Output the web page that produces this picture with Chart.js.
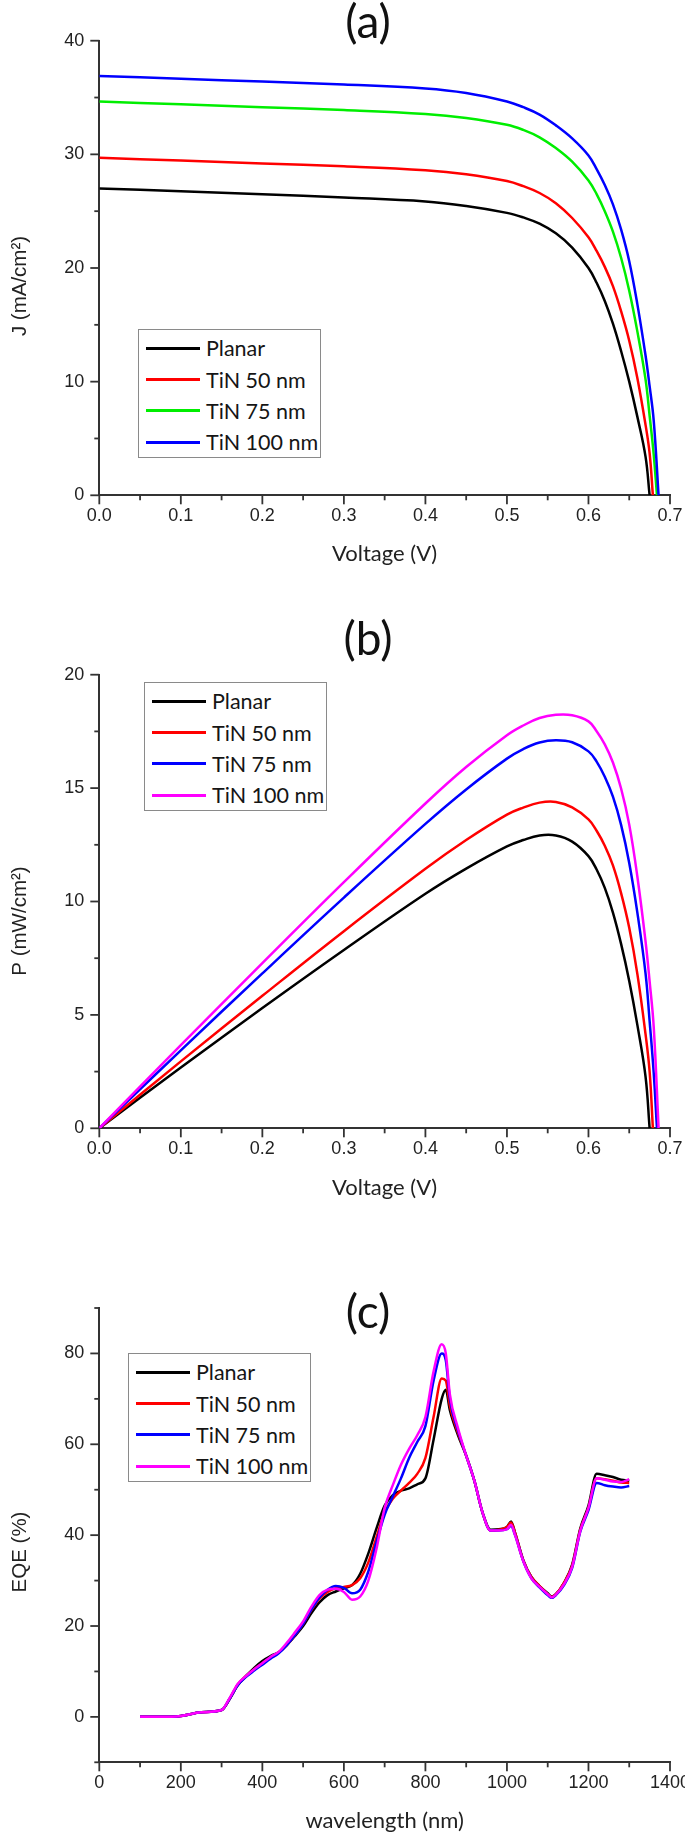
<!DOCTYPE html>
<html>
<head>
<meta charset="utf-8">
<script src="https://cdn.jsdelivr.net/npm/chart.js@4.4.1/dist/chart.umd.min.js"></script>
<style>
body { margin: 0; background: #fff; }
#page { position: relative; width: 685px; height: 1838px; overflow: hidden; }
#page canvas { position: absolute; left: 0; }
.legend { position: absolute; box-sizing: border-box; border: 1.5px solid #8a8a8a; background: #fff;
  font-family: Lato, sans-serif; font-size: 21.5px; color: #151515; }
.legend .row { position: absolute; left: 0; right: 0; height: 30px; line-height: 30px; white-space: nowrap; }
.legend .swatch { position: absolute; top: 13.5px; height: 3px; }
.legend .txt { position: absolute; top: 0; }
</style>
</head>
<body>
<div id="page"></div>
<script>
// series names, shared by the three panels
const seriesNames = ["Planar", "TiN 50 nm", "TiN 75 nm", "TiN 100 nm"];
const jvColors = ["#000000", "#ff0000", "#00ee00", "#0000ff"];
const pvColors = ["#000000", "#ff0000", "#0000ff", "#ff00ff"];

// (a) / (b) voltage points for each device (V)
const vPlanar = [0, 0.1, 0.2, 0.3, 0.4, 0.45, 0.5, 0.52, 0.54, 0.56, 0.58, 0.6, 0.61, 0.62, 0.63, 0.64, 0.65, 0.66, 0.67, 0.675];
const vTiN50 = [0, 0.1, 0.2, 0.3, 0.4, 0.45, 0.5, 0.52, 0.54, 0.56, 0.58, 0.6, 0.61, 0.62, 0.63, 0.64, 0.65, 0.66, 0.67, 0.675, 0.679];
const vTiN75 = [0, 0.1, 0.2, 0.3, 0.4, 0.45, 0.5, 0.52, 0.54, 0.56, 0.58, 0.6, 0.61, 0.62, 0.63, 0.64, 0.65, 0.66, 0.67, 0.675, 0.68, 0.684];
const vTiN100 = [0, 0.1, 0.2, 0.3, 0.4, 0.45, 0.5, 0.52, 0.54, 0.56, 0.58, 0.6, 0.61, 0.62, 0.63, 0.64, 0.65, 0.66, 0.67, 0.675, 0.68, 0.686];

// (a) current density J (mA/cm2)
const jPlanar = [27.0, 26.75, 26.5, 26.2, 25.85, 25.45, 24.85, 24.45, 23.9, 23.05, 21.8, 20.0, 18.7, 17.1, 15.1, 12.7, 10.0, 6.9, 3.4, 0];
const jTiN50 = [29.7, 29.45, 29.2, 28.95, 28.6, 28.25, 27.65, 27.2, 26.6, 25.7, 24.4, 22.7, 21.5, 20.1, 18.4, 16.2, 13.6, 10.3, 6.2, 3.7, 0];
const jTiN75 = [34.65, 34.4, 34.15, 33.9, 33.55, 33.2, 32.6, 32.15, 31.5, 30.55, 29.35, 27.7, 26.5, 25.0, 23.2, 20.9, 18.0, 14.4, 10.2, 7.0, 3.6, 0];
const jTiN100 = [36.9, 36.65, 36.4, 36.15, 35.8, 35.4, 34.65, 34.15, 33.5, 32.55, 31.4, 29.9, 28.7, 27.3, 25.6, 23.4, 20.6, 16.8, 12.3, 9.6, 6.6, 0];

// (b) power density P (mW/cm2)
const pPlanar = [0, 2.68, 5.3, 7.86, 10.34, 11.45, 12.43, 12.71, 12.91, 12.91, 12.64, 12.0, 11.41, 10.6, 9.51, 8.13, 6.5, 4.55, 2.28, 0];
const pTiN50 = [0, 2.95, 5.84, 8.69, 11.44, 12.71, 13.83, 14.14, 14.36, 14.39, 14.15, 13.62, 13.12, 12.46, 11.59, 10.37, 8.84, 6.8, 4.15, 2.5, 0];
const pTiN75 = [0, 3.44, 6.83, 10.17, 13.42, 14.94, 16.3, 16.72, 17.01, 17.11, 17.02, 16.62, 16.17, 15.5, 14.62, 13.38, 11.7, 9.5, 6.83, 4.73, 2.45, 0];
const pTiN100 = [0, 3.67, 7.28, 10.85, 14.32, 15.93, 17.33, 17.76, 18.09, 18.23, 18.21, 17.94, 17.51, 16.93, 16.13, 14.98, 13.39, 11.09, 8.24, 6.48, 4.49, 0];

// (c) EQE (%) against wavelength (nm)
const wavelength = [100, 150, 200, 250, 300, 320, 340, 360, 380, 400,
  420, 440, 460, 480, 500, 520, 540, 560, 580, 600,
  620, 640, 660, 680, 700, 720, 740, 760, 780, 800,
  820, 840, 850, 860, 880, 900, 920, 940, 960, 980,
  1000, 1010, 1020, 1040, 1060, 1080, 1100, 1110, 1120, 1140,
  1160, 1180, 1200, 1220, 1240, 1260, 1280, 1300];
const eqePlanar = [0, 0, 0.2, 1.0, 1.5, 4.0, 7.0, 9.0, 10.8, 12.3,
  13.4, 14.2, 15.8, 17.8, 20.0, 22.8, 25.2, 26.8, 27.6, 28.3,
  29.0, 31.5, 36.0, 41.5, 46.5, 48.8, 49.8, 50.3, 51.2, 52.5,
  61.0, 70.0, 72.0, 67.5, 62.0, 57.5, 52.0, 45.0, 41.2, 41.3,
  41.8, 43.0, 40.5, 34.5, 30.8, 28.8, 27.2, 26.5, 27.0, 29.5,
  33.5, 41.5, 46.5, 53.5, 53.2, 52.8, 52.2, 52.0];
const eqeTiN50 = [0, 0, 0.2, 1.0, 1.5, 4.0, 7.2, 9.0, 10.5, 11.8,
  13.0, 14.2, 15.8, 18.0, 20.5, 23.5, 26.0, 27.5, 28.3, 28.6,
  29.0, 30.5, 34.0, 39.5, 45.0, 48.0, 49.8, 51.5, 53.5, 57.0,
  66.0, 74.5, 74.0, 68.5, 62.5, 57.5, 52.0, 45.0, 41.0, 41.2,
  41.8, 42.8, 40.5, 34.5, 30.8, 28.8, 27.0, 26.4, 27.0, 29.5,
  33.3, 41.2, 46.0, 52.5, 52.3, 52.0, 51.6, 51.5];
const eqeTiN75 = [0, 0, 0.2, 1.0, 1.5, 4.0, 7.0, 8.8, 10.2, 11.5,
  12.8, 14.0, 15.8, 18.0, 20.5, 23.6, 26.3, 28.0, 28.8, 28.4,
  27.2, 28.0, 32.0, 38.5, 44.5, 48.5, 52.5, 57.0, 60.5, 64.0,
  74.0, 80.0, 78.5, 70.0, 63.0, 57.5, 52.0, 45.0, 41.0, 41.0,
  41.3, 42.0, 40.0, 34.3, 30.5, 28.5, 26.8, 26.2, 26.8, 29.0,
  32.8, 40.8, 45.5, 51.5, 51.0, 50.7, 50.5, 50.8];
const eqeTiN100 = [0, 0, 0.2, 1.0, 1.5, 4.2, 7.3, 9.0, 10.5, 11.8,
  13.2, 14.3, 16.3, 18.6, 21.0, 24.2, 26.8, 28.0, 28.2, 27.5,
  25.8, 26.5, 30.0, 37.0, 46.0, 51.0, 55.5, 59.0, 62.0, 66.0,
  76.0, 82.0, 80.0, 71.0, 63.5, 57.5, 52.0, 45.0, 41.0, 41.0,
  41.3, 42.3, 40.0, 34.3, 30.5, 28.6, 27.0, 26.3, 26.9, 29.2,
  33.0, 41.0, 46.0, 52.5, 52.2, 51.8, 51.7, 52.3];

const page = document.getElementById("page");

function pairs(xs, ys) {
  return xs.map((x, i) => ({ x: x, y: ys[i] }));
}

function makeSets(xLists, yLists, colors, mode) {
  return yLists.map((ys, i) => ({
    label: seriesNames[i],
    data: pairs(xLists[i], ys),
    borderColor: colors[i],
    backgroundColor: colors[i],
    borderWidth: 2.5,
    pointRadius: 0,
    cubicInterpolationMode: mode,
    tension: 0.4,
    order: 4 - i
  }));
}

// ticks (major long, minor short), panel letter and the y title
const axisDecor = {
  id: "axisDecor",
  afterDraw(chart, args, opts) {
    const ctx = chart.ctx;
    const area = chart.chartArea;
    const xs = chart.scales.x, ys = chart.scales.y;
    ctx.save();
    ctx.strokeStyle = "#333";
    ctx.lineWidth = 1.8;
    xs.ticks.forEach(t => {
      const px = xs.getPixelForValue(t.value);
      const len = t.label === "" ? 5 : 9;
      ctx.beginPath(); ctx.moveTo(px, area.bottom); ctx.lineTo(px, area.bottom + len); ctx.stroke();
    });
    ys.ticks.forEach(t => {
      const py = ys.getPixelForValue(t.value);
      const len = t.label === "" ? 5 : 9;
      ctx.beginPath(); ctx.moveTo(area.left, py); ctx.lineTo(area.left - len, py); ctx.stroke();
    });
    ctx.fillStyle = "#111";
    ctx.textAlign = "center";
    ctx.textBaseline = "middle";
    ctx.font = "46px Lato";
    ctx.fillText(opts.label, 368, opts.labelY);
    ctx.translate(20, opts.yTitleY);
    ctx.rotate(-Math.PI / 2);
    ctx.font = '20.5px "Liberation Sans"';
    ctx.fillStyle = "#222";
    ctx.fillText(opts.yTitle, 0, 0);
    ctx.restore();
  }
};

function makePanel(cfg) {
  const canvas = document.createElement("canvas");
  canvas.width = 685;
  canvas.height = cfg.height;
  canvas.style.top = cfg.top + "px";
  page.appendChild(canvas);
  const tickFont = { family: '"Liberation Sans"', size: 18 };
  const chart = new Chart(canvas, {
    type: "line",
    data: { datasets: cfg.datasets },
    options: {
      responsive: false,
      animation: false,
      devicePixelRatio: 1,
      layout: { padding: { top: cfg.areaTop, right: 15, left: 0, bottom: 0 } },
      plugins: {
        legend: { display: false },
        tooltip: { enabled: false },
        axisDecor: { label: cfg.label, labelY: cfg.labelY, yTitle: cfg.yTitle, yTitleY: cfg.yTitleY }
      },
      scales: {
        x: {
          type: "linear", min: cfg.xMin, max: cfg.xMax,
          ticks: { stepSize: cfg.xStep, autoSkip: false, maxRotation: 0, padding: 1,
            font: tickFont, color: "#222", callback: cfg.xLabel },
          grid: { drawOnChartArea: false, tickLength: 9, tickColor: "rgba(0,0,0,0)" },
          border: { color: "#333", width: 2 },
          title: { display: true, text: cfg.xTitle, color: "#222",
            font: { family: "Lato", size: 22 }, padding: { top: 0, bottom: cfg.xTitlePad } },
          afterFit(s) { s.height = cfg.height - cfg.areaBottom; s.paddingLeft = 0; s.paddingRight = 0; }
        },
        y: {
          type: "linear", min: cfg.yMin, max: cfg.yMax,
          ticks: { stepSize: cfg.yStep, autoSkip: false, padding: 6,
            font: tickFont, color: "#222", callback: cfg.yLabel },
          grid: { drawOnChartArea: false, tickLength: 9, tickColor: "rgba(0,0,0,0)" },
          border: { color: "#333", width: 2 },
          afterFit(s) { s.width = 99.3; s.paddingTop = 0; s.paddingBottom = 0; }
        }
      }
    },
    plugins: [axisDecor]
  });

  // boxed legend, built from the chart's own datasets
  const box = document.createElement("div");
  box.className = "legend";
  box.style.left = cfg.legend.left + "px";
  box.style.top = cfg.legend.top + "px";
  box.style.width = "183px";
  box.style.height = "129px";
  const rowY = [19.5, 51, 82, 113.5];
  chart.data.datasets.forEach((ds, i) => {
    const row = document.createElement("div");
    row.className = "row";
    row.style.top = (rowY[i] - 16.5) + "px";
    const sw = document.createElement("span");
    sw.className = "swatch";
    sw.style.left = "7px";
    sw.style.width = "54px";
    sw.style.background = ds.borderColor;
    const tx = document.createElement("span");
    tx.className = "txt";
    tx.style.left = "67px";
    tx.textContent = ds.label;
    row.appendChild(sw);
    row.appendChild(tx);
    box.appendChild(row);
  });
  page.appendChild(box);
  return chart;
}

const labelEvery = (step) => (v) => (Math.abs(v / step - Math.round(v / step)) < 1e-6 ? v : "");

makePanel({
  top: 0, height: 600, areaTop: 40.7, areaBottom: 495.3,
  label: "(a)", labelY: 23, yTitle: "J (mA/cm²)", yTitleY: 286,
  xTitle: "Voltage (V)", xTitlePad: 33.2,
  xMin: 0, xMax: 0.7, xStep: 0.05,
  xLabel: (v) => (Math.round(v * 100) % 10 === 0 ? v.toFixed(1) : ""),
  yMin: 0, yMax: 40, yStep: 5, yLabel: labelEvery(10),
  datasets: makeSets([vPlanar, vTiN50, vTiN75, vTiN100], [jPlanar, jTiN50, jTiN75, jTiN100], jvColors, "default"),
  legend: { left: 138, top: 329 }
});

makePanel({
  top: 600, height: 640, areaTop: 74.7, areaBottom: 528.3,
  label: "(b)", labelY: 40, yTitle: "P (mW/cm²)", yTitleY: 321,
  xTitle: "Voltage (V)", xTitlePad: 38.8,
  xMin: 0, xMax: 0.7, xStep: 0.05,
  xLabel: (v) => (Math.round(v * 100) % 10 === 0 ? v.toFixed(1) : ""),
  yMin: 0, yMax: 20, yStep: 2.5, yLabel: labelEvery(5),
  datasets: makeSets([vPlanar, vTiN50, vTiN75, vTiN100], [pPlanar, pTiN50, pTiN75, pTiN100], pvColors, "default"),
  legend: { left: 144, top: 682 }
});

makePanel({
  top: 1240, height: 598, areaTop: 68, areaBottom: 522.3,
  label: "(c)", labelY: 73, yTitle: "EQE (%)", yTitleY: 312,
  xTitle: "wavelength (nm)", xTitlePad: 3.8,
  xMin: 0, xMax: 1400, xStep: 100, xLabel: labelEvery(200),
  yMin: -10, yMax: 90, yStep: 10,
  yLabel: (v) => (v >= 0 && v <= 80 && v % 20 === 0 ? v : ""),
  datasets: makeSets([wavelength, wavelength, wavelength, wavelength], [eqePlanar, eqeTiN50, eqeTiN75, eqeTiN100], pvColors, "monotone"),
  legend: { left: 128, top: 1353 }
});
</script>
</body>
</html>
